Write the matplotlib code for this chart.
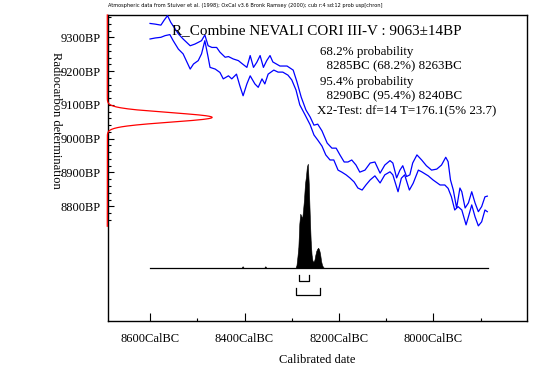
import numpy as np
import matplotlib
matplotlib.use("Agg")
import matplotlib.pyplot as plt

# ---------------- data ----------------
header = ("Atmospheric data from Stuiver et al. (1998); OxCal v3.6 Bronk Ramsey (2000); "
          "cub r:4 sd:12 prob usp[chron]")
title = "R_Combine NEVALI CORI III-V : 9063\u00b114BP"
info_lines = ["68.2% probability", "  8285BC (68.2%) 8263BC",
              "95.4% probability", "  8290BC (95.4%) 8240BC",
              "X2-Test: df=14 T=176.1(5% 23.7)"]

date_mean = 9063
date_sigma = 14

upper_cal = [8600, 8589, 8577, 8570, 8563, 8556, 8547, 8540, 8530, 8515, 8505, 8491, 8484, 8477,
             8469, 8459, 8452, 8441, 8434, 8424, 8413, 8406, 8395, 8388, 8381, 8374, 8367, 8360,
             8353, 8346, 8340, 8325, 8310, 8297, 8289, 8280, 8270, 8261, 8253, 8245, 8236, 8225,
             8215, 8206, 8198, 8189, 8181, 8173, 8164, 8156, 8145, 8134, 8124, 8113, 8103, 8092,
             8086, 8078, 8071, 8065, 8057, 8050, 8044, 8035, 8025, 8015, 8004, 7993, 7983, 7974,
             7969, 7964, 7958, 7951, 7944, 7940, 7933, 7926, 7919, 7912, 7905, 7898, 7891, 7886]
upper_bp = [9341, 9339, 9336, 9351, 9364, 9344, 9325, 9310, 9295, 9275, 9280, 9290, 9307, 9275,
            9270, 9270, 9256, 9241, 9243, 9236, 9231, 9223, 9211, 9246, 9211, 9226, 9246, 9211,
            9231, 9246, 9227, 9215, 9215, 9203, 9168, 9123, 9085, 9064, 9040, 9043, 9023, 8987,
            8972, 8972, 8952, 8931, 8931, 8937, 8922, 8901, 8907, 8928, 8931, 8898, 8922, 8935,
            8928, 8884, 8907, 8920, 8888, 8893, 8928, 8952, 8937, 8920, 8907, 8910, 8922, 8945,
            8932, 8878, 8848, 8795, 8854, 8843, 8795, 8810, 8843, 8810, 8784, 8799, 8828, 8830]

lower_cal = [8600, 8589, 8577, 8568, 8558, 8551, 8540, 8530, 8515, 8508, 8498, 8491, 8484, 8477,
             8473, 8462, 8452, 8445, 8434, 8427, 8417, 8410, 8403, 8395, 8388, 8378, 8371, 8363,
             8357, 8350, 8338, 8329, 8319, 8308, 8300, 8291, 8283, 8272, 8261, 8253, 8245, 8236,
             8228, 8219, 8211, 8202, 8194, 8185, 8177, 8168, 8160, 8151, 8143, 8134, 8124, 8113,
             8103, 8092, 8086, 8075, 8068, 8061, 8051, 8043, 8032, 8025, 8011, 8001, 7986, 7976,
             7969, 7962, 7955, 7948, 7940, 7931, 7926, 7919, 7912, 7905, 7898, 7891, 7886]
lower_bp = [9295, 9298, 9300, 9305, 9308, 9290, 9265, 9251, 9206, 9221, 9231, 9251, 9290, 9241,
            9211, 9206, 9196, 9177, 9186, 9177, 9191, 9157, 9127, 9162, 9186, 9162, 9152, 9177,
            9162, 9191, 9203, 9197, 9197, 9188, 9174, 9144, 9100, 9071, 9041, 9011, 8996, 8978,
            8952, 8937, 8937, 8907, 8901, 8893, 8884, 8872, 8854, 8848, 8863, 8878, 8890, 8869,
            8893, 8902, 8893, 8843, 8883, 8893, 8848, 8868, 8907, 8902, 8890, 8878, 8863, 8863,
            8853, 8828, 8789, 8799, 8789, 8745, 8769, 8804, 8769, 8742, 8754, 8789, 8784]

# posterior probability distribution (relative)
prob_cal = [8406, 8404, 8402, 8358, 8356, 8354,
            8292, 8290, 8288, 8286, 8284, 8282, 8280, 8278, 8276, 8274, 8272, 8270, 8268, 8266,
            8264, 8262, 8260, 8258, 8256, 8254, 8252, 8250, 8248, 8246, 8244, 8242, 8240, 8238,
            8236, 8234, 8232]
prob_val = [0, 1.5, 0, 0, 1.5, 0,
            0, 2.7, 11, 21, 44, 54, 52, 49, 58, 69, 84, 91, 101, 104,
            84, 54, 28, 13, 7, 6, 8, 13, 17, 19, 20, 18, 14, 7,
            3, 1, 0]

range68 = (8285, 8263)
range95 = (8290, 8240)
cal_start, cal_end = 8600, 7885

# ---------------- figure ----------------
serif = ["Liberation Serif", "DejaVu Serif"]
plt.rcParams["font.family"] = serif

fig = plt.figure(figsize=(5.53, 3.69), dpi=100)
ax = fig.add_axes([108 / 553, 1 - 321 / 369, (527 - 108) / 553, (321 - 15) / 369])

xl = (8689, 7802)
yl = (8460.5, 9366)
ax.set_xlim(*xl)
ax.set_ylim(*yl)

# calibration curve
ax.plot(upper_cal, upper_bp, color="#0000ff", lw=0.9, zorder=3)
ax.plot(lower_cal, lower_bp, color="#0000ff", lw=0.9, zorder=3)

# radiocarbon measurement (red normal curve on the y axis)
bp_grid = np.linspace(8741, yl[1], 800)
g = np.exp(-0.5 * ((bp_grid - date_mean) / date_sigma) ** 2)
ax.plot(xl[0] + 1.5 - g * 222, bp_grid, color="#ff0000", lw=0.9, zorder=4, clip_on=False)

# posterior distribution
base = 8618
scale = 308 / max(prob_val)
pc = np.array(prob_cal, float)
pv = np.array(prob_val, float)
ax.plot([cal_start, cal_end], [base, base], color="black", lw=0.9, zorder=2)
main = slice(6, None)
ax.fill_between(pc[main], base, base + pv[main] * scale, color="black", lw=0.4, zorder=2)
ax.fill_between(pc[:3], base, base + pv[:3] * scale, color="black", lw=0.5, zorder=2)
ax.fill_between(pc[3:6], base, base + pv[3:6] * scale, color="black", lw=0.5, zorder=2)

# range brackets
for (a, b), y0, h in [(range68, 8580, 17), (range95, 8538, 19)]:
    ax.plot([a, a, b, b], [y0 + h, y0, y0, y0 + h], color="black", lw=0.9)

# axes styling
for s in ax.spines.values():
    s.set_linewidth(1.0)
ax.set_xticks([8600, 8400, 8200, 8000])
ax.set_xticklabels(["8600CalBC", "8400CalBC", "8200CalBC", "8000CalBC"])
ax.set_xticks([8500, 8300, 8100, 7900], minor=True)
ax.set_yticks([9300, 9200, 9100, 9000, 8900, 8800])
ax.set_yticklabels(["9300BP", "9200BP", "9100BP", "9000BP", "8900BP", "8800BP"])
ax.set_yticks(np.arange(8760, 9361, 20), minor=True)
ax.tick_params(axis="x", which="major", direction="in", length=6, width=0.8, pad=9,
               labelsize=9, top=False)
ax.tick_params(axis="x", which="minor", direction="in", length=2.2, width=0.8, top=False)
ax.tick_params(axis="y", which="major", direction="in", length=4.3, width=0.8, pad=5.5,
               labelsize=9, right=False)
ax.tick_params(axis="y", which="minor", direction="in", length=2.2, width=0.8, right=False)

ax.set_xlabel("Calibrated date", fontsize=9, labelpad=6)
fig.text(56 / 553, 1 - 120 / 369, "Radiocarbon determination", rotation=270,
         ha="center", va="center", fontsize=9)

fig.text(108 / 553, 1 - 5 / 369, header, fontsize=3.6, family="DejaVu Sans",
         ha="left", va="center")
fig.text(172 / 553, 1 - 31 / 369, title, fontsize=10.9, ha="left", va="center")
ys = [52, 66.7, 81.7, 96, 110]
xs = [320, 320, 320, 320, 316.7]
for t, xp, yp in zip(info_lines, xs, ys):
    fig.text(xp / 553, 1 - yp / 369, t, fontsize=9.4, ha="left", va="center")

fig.savefig("out.png", dpi=100)
